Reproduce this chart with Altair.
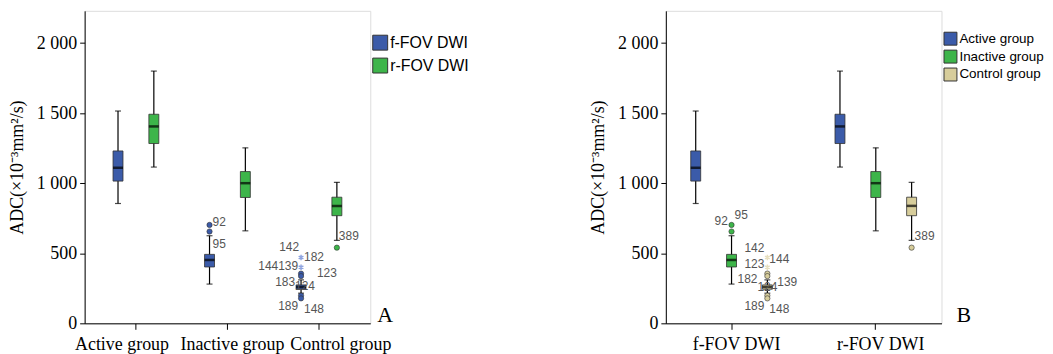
import altair as alt
import pandas as pd

GROUPS = ["Active group", "Inactive group", "Control group"]
SEQS = ["f-FOV DWI", "r-FOV DWI"]

# Box statistics
box_group = ["Active group", "Active group", "Inactive group", "Inactive group", "Control group", "Control group"]
box_seq = ["f-FOV DWI", "r-FOV DWI", "f-FOV DWI", "r-FOV DWI", "f-FOV DWI", "r-FOV DWI"]
whisker_low = [855, 1115, 280, 660, 215, 592]
q1 = [1015, 1283, 402, 898, 243, 768]
median = [1110, 1405, 452, 1000, 259, 838]
q3 = [1230, 1492, 492, 1083, 274, 900]
whisker_high = [1515, 1800, 625, 1252, 310, 1006]

# Outliers
out_group = ["Inactive group"] * 2 + ["Control group"] * 7
out_seq = ["f-FOV DWI"] * 8 + ["r-FOV DWI"]
out_value = [702, 655, 470, 400, 355, 337, 198, 178, 540]
out_kind = ["circle", "circle", "star", "star", "circle", "circle", "circle", "circle", "circle"]

# Outlier case labels, panel A
labA_text = ["92", "95", "142", "182", "144", "139", "123", "183", "124", "189", "148", "389"]
labA_group = ["Inactive group"] * 2 + ["Control group"] * 10
labA_seq = ["f-FOV DWI"] * 11 + ["r-FOV DWI"]
labA_value = [726, 569, 541, 470, 406, 406, 356, 292, 263, 121, 100, 626]

# Outlier case labels, panel B
labB_text = ["92", "95", "142", "144", "123", "182", "124", "139", "189", "148", "389"]
labB_group = ["Inactive group"] * 2 + ["Control group"] * 9
labB_seq = ["f-FOV DWI"] * 10 + ["r-FOV DWI"]
labB_value = [728, 770, 537, 459, 424, 318, 262, 297, 120, 99, 622]

# label horizontal nudges (style, px)
labA_dx = [3, 3, -22, 3, -43, -23, 16, -26, -6, -23, 3, 2]
labB_dx = [-17, 3, -23, 2, -23, -30, -10, 10, -23, 2, 3]

BLUE = "#3b5ba9"
GREEN = "#3db54a"
TAN = "#d7cd9b"
SERIF = "Liberation Serif"
SANS = "Liberation Sans"
YTITLE = "ADC(×10⁻³mm²/s)"

boxes = pd.DataFrame({"group": box_group, "seq": box_seq, "low": whisker_low,
                      "q1": q1, "median": median, "q3": q3, "high": whisker_high})
outs = pd.DataFrame({"group": out_group, "seq": out_seq, "value": out_value, "kind": out_kind})

Y_DOMAIN = [0, 2230]
STAR = "M0,-1L0,1M-0.87,-0.5L0.87,0.5M-0.87,0.5L0.87,-0.5"


def y_enc(field):
    return alt.Y(field, type="quantitative", scale=alt.Scale(domain=Y_DOMAIN, nice=False, zero=True),
                 axis=alt.Axis(title=YTITLE, values=[0, 500, 1000, 1500, 2000],
                               labelExpr="replace(format(datum.value, ',d'), ',', ' ')",
                               grid=False, domainColor="black", tickColor="black", tickSize=5,
                               labelFont=SERIF, labelFontSize=18, labelColor="black", labelPadding=3,
                               titleFont=SERIF, titleFontSize=18, titleFontWeight="normal",
                               titleColor="black", titlePadding=10))


def panel(xf, of, xdom, odom, colors, pin, pout, x_axis, legend, labels, star_color, letter, letter_x, w, h):
    xs = alt.X(f"{xf}:N", sort=xdom, scale=alt.Scale(domain=xdom, paddingInner=pin, paddingOuter=pout),
               axis=x_axis, title=None)
    xo = alt.XOffset(f"{of}:N", sort=odom, scale=alt.Scale(domain=odom, paddingInner=0, paddingOuter=0))
    cscale = alt.Scale(domain=odom, range=colors)

    base = alt.Chart(boxes)
    whisk = base.mark_rule(color="black", strokeWidth=1.2).encode(x=xs, xOffset=xo, y=y_enc("low"), y2="high")
    cap_lo = base.mark_tick(color="black", size=6, thickness=1.2).encode(x=xs, xOffset=xo, y=y_enc("low"))
    cap_hi = base.mark_tick(color="black", size=6, thickness=1.2).encode(x=xs, xOffset=xo, y=y_enc("high"))
    box = base.mark_bar(size=10, stroke="#333333", strokeWidth=0.8).encode(
        x=xs, xOffset=xo, y=y_enc("q1"), y2="q3",
        color=alt.Color(f"{of}:N", scale=cscale, legend=legend))
    med = base.mark_tick(color="black", size=10, thickness=2.5).encode(x=xs, xOffset=xo, y=y_enc("median"))

    oc = alt.Chart(outs).transform_filter("datum.kind == 'circle'").mark_point(
        filled=True, shape="circle", size=28, stroke="#333333", strokeWidth=0.6, opacity=1).encode(
        x=xs, xOffset=xo, y=y_enc("value"),
        fill=alt.Fill(f"{of}:N", scale=cscale, legend=None))
    os_ = alt.Chart(outs).transform_filter("datum.kind == 'star'").mark_point(
        shape=STAR, size=30, filled=False, stroke=star_color, strokeWidth=1.5, opacity=1).encode(
        x=xs, xOffset=xo, y=y_enc("value"))

    layers = [whisk, cap_lo, cap_hi, box, med, oc, os_]
    for (txt, g, s, v, dx) in labels:
        row = pd.DataFrame({"group": [g], "seq": [s], "value": [v], "txt": [txt]})
        layers.append(alt.Chart(row).mark_text(align="left", baseline="middle", dx=dx, font=SANS,
                                               fontSize=12, color="#555555").encode(
            x=xs, xOffset=xo, y=y_enc("value"), text="txt:N"))
    let = alt.Chart(pd.DataFrame({"letter": [letter]})).mark_text(
        align="left", baseline="alphabetic", font=SERIF, fontSize=22, color="black").encode(
        x=alt.value(letter_x), y=alt.value(h - 1), text="letter:N")
    layers.append(let)
    return alt.layer(*layers).properties(width=w, height=h)


xaxis_common = dict(domainColor="black", tickColor="black", tickSize=6, labelFont=SERIF,
                    labelFontSize=18, labelColor="black", labelPadding=6, labelAngle=0, title=None)

axisA = alt.Axis(labelOffset={"condition": [{"test": "datum.value === 'Active group'", "value": -14},
                                            {"test": "datum.value === 'Control group'", "value": 22}],
                              "value": 5}, **xaxis_common)
axisB = alt.Axis(labelOffset=5, **xaxis_common)

legA = alt.Legend(title=None, orient="none", legendX=289, legendY=24, symbolType="square",
                  symbolSize=225, symbolStrokeColor="#333333", symbolStrokeWidth=1,
                  labelFont=SANS, labelFontSize=16, labelColor="black", rowPadding=3, labelOffset=2,
                  padding=0)
legB = alt.Legend(title=None, orient="none", legendX=279, legendY=21, symbolType="square",
                  symbolSize=169, symbolStrokeColor="#333333", symbolStrokeWidth=1,
                  labelFont=SANS, labelFontSize=13.5, labelColor="black", rowPadding=0, labelOffset=2,
                  padding=0)

labelsA = list(zip(labA_text, labA_group, labA_seq, labA_value, labA_dx))
labelsB = list(zip(labB_text, labB_group, labB_seq, labB_value, labB_dx))

left = panel("group", "seq", GROUPS, SEQS, [BLUE, GREEN], 0.217, 0.169, axisA, legA, labelsA,
             "#8ea3df", "A", 294, 287, 314)
right = panel("seq", "group", SEQS, GROUPS, [BLUE, GREEN, TAN], 0.255, 0.083, axisB, legB, labelsB,
              "#e6dfbf", "B", 292, 277, 314)

chart = alt.hconcat(left, right, spacing=297, bounds="flush").resolve_scale(
    color="independent", fill="independent", x="independent", xOffset="independent"
).properties(padding={"left": 0, "top": 1, "right": 0, "bottom": 0}).configure_view(
    fill="#ececec", stroke="#8a8a8a", strokeWidth=1).configure(background="white")

chart.save("out.html", embed_options={"renderer": "svg", "actions": False})
